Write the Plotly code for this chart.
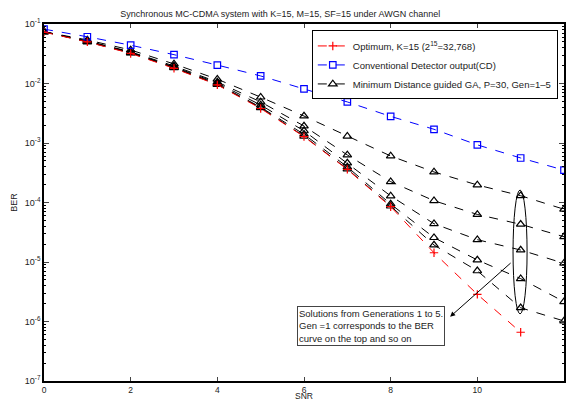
import plotly.graph_objects as go

snr = [0, 1, 2, 3, 4, 5, 6, 7, 8, 9, 10, 11, 12]
snr_opt = [0, 1, 2, 3, 4, 5, 6, 7, 8, 9, 10, 11]

ber_optimum = [0.073, 0.050, 0.032, 0.018, 0.0095, 0.0038, 0.00128, 0.00036, 0.000085,
               0.0000143, 0.00000286, 0.00000066]
ber_cd = [0.082, 0.061, 0.044, 0.0305, 0.0204, 0.0134, 0.0081, 0.0049, 0.0028, 0.0017,
          0.00093, 0.00056, 0.00035]
ber_gen1 = [0.074, 0.054, 0.0366, 0.0213, 0.0118, 0.0059, 0.00284, 0.0013, 0.000605,
            0.000326, 0.000197, 0.00013, 0.000077]
ber_gen2 = [0.074, 0.052, 0.034, 0.0197, 0.0106, 0.0049, 0.00193, 0.00063, 0.000224,
            0.000107, 0.000063, 0.000043, 0.0000266]
ber_gen3 = [0.074, 0.051, 0.0335, 0.019, 0.0102, 0.00435, 0.0016, 0.00046, 0.000129,
            0.000044, 0.0000237, 0.0000159, 0.0000095]
ber_gen4 = [0.074, 0.051, 0.033, 0.0186, 0.0098, 0.0040, 0.0014, 0.000396, 0.000094,
            0.0000257, 0.0000108, 0.00000525, 0.00000215]
ber_gen5 = [0.074, 0.050, 0.0325, 0.0183, 0.0096, 0.0039, 0.0013, 0.000366, 0.000087,
            0.0000193, 0.0000071, 0.0000017, 0.00000102]

y_tick_vals = [1e-7, 1e-6, 1e-5, 1e-4, 1e-3, 1e-2, 1e-1]
y_tick_text = ["10<sup>-7</sup>", "10<sup>-6</sup>", "10<sup>-5</sup>", "10<sup>-4</sup>",
               "10<sup>-3</sup>", "10<sup>-2</sup>", "10<sup>-1</sup>"]
x_tick_vals = [0, 2, 4, 6, 8, 10, 12]

title_text = "Synchronous MC-CDMA system with K=15, M=15, SF=15 under AWGN channel"
x_title = "SNR"
y_title = "BER"
note_text = ("Solutions from Generations 1 to 5.<br>Gen =1 corresponds to the BER<br>"
             "curve on the top and so on")

FONT = "Liberation Sans, Arial, sans-serif"

fig = go.Figure()

gens = [ber_gen1, ber_gen2, ber_gen3, ber_gen4, ber_gen5]
for i, g in enumerate(gens):
    fig.add_trace(go.Scatter(
        x=snr, y=g, mode="lines+markers",
        name="Minimum Distance guided GA, P=30, Gen=1\u20135",
        showlegend=(i == 0), legendrank=3,
        line=dict(color="#000000", width=1, dash="dash"),
        marker=dict(symbol="triangle-up-open", size=7.5, color="#000000", line=dict(width=1.2)),
    ))
fig.add_trace(go.Scatter(
    x=snr, y=ber_cd, mode="lines+markers",
    name="Conventional Detector output(CD)", legendrank=2,
    line=dict(color="#0000ff", width=1, dash="dash"),
    marker=dict(symbol="square-open", size=6.5, color="#0000ff", line=dict(width=1.2)),
))
fig.add_trace(go.Scatter(
    x=snr_opt, y=ber_optimum, mode="lines+markers",
    name="Optimum, K=15 (2<sup>15</sup>=32,768)", legendrank=1,
    line=dict(color="#ff0000", width=1, dash="dash"),
    marker=dict(symbol="cross-thin", size=6, line=dict(color="#ff0000", width=1.2)),
))

fig.update_layout(
    width=566, height=402,
    margin=dict(l=44, r=2, t=24, b=21),
    paper_bgcolor="white", plot_bgcolor="white",
    font=dict(family=FONT, size=9, color="#222222"),
    title=dict(text=title_text, xref="container", x=0.495, xanchor="center",
               yref="container", y=0.965, yanchor="middle",
               font=dict(size=9, color="#222222")),
    showlegend=True,
    legend=dict(
        x=0.515, y=0.982, xanchor="left", yanchor="top",
        bordercolor="#000000", borderwidth=1, bgcolor="white",
        font=dict(size=9.5, color="#222222"),
        itemwidth=30, tracegroupgap=0,
    ),
)

fig.update_xaxes(
    range=[0, 12], tickvals=x_tick_vals, ticks="inside", ticklen=4,
    showline=True, linecolor="#000000", linewidth=1.5, mirror="allticks",
    showgrid=False, zeroline=False, automargin=False,
    tickfont=dict(size=8.5),
)
fig.update_yaxes(
    type="log", range=[-7, -1], tickvals=y_tick_vals, ticktext=y_tick_text,
    ticks="inside", ticklen=5,
    minor=dict(ticks="inside", ticklen=2.5, dtick="D1", tickcolor="#000000", showgrid=False),
    showline=True, linecolor="#000000", linewidth=1.5, mirror="allticks",
    showgrid=False, zeroline=False, automargin=False,
    title=dict(text=y_title, standoff=6, font=dict(size=9)),
    tickfont=dict(size=9),
)

# x-axis title as annotation to keep it just under tick labels
fig.add_annotation(
    xref="paper", yref="paper", x=0.5, y=-0.0588, xanchor="center", yanchor="bottom",
    text=x_title, showarrow=False, font=dict(size=8.5, color="#222222"), borderpad=0,
)
# Text box annotation
fig.add_annotation(
    xref="paper", yref="paper", x=0.629, y=0.154, xanchor="center", yanchor="middle",
    text=note_text, showarrow=False, align="left",
    font=dict(size=9.5, color="#222222"),
    bordercolor="#444444", borderwidth=1, borderpad=1, bgcolor="white",
)
# Arrow from ellipse to text box
fig.add_annotation(
    xref="paper", yref="paper", x=0.781, y=0.180, text="",
    showarrow=True, arrowhead=2, arrowsize=1, arrowwidth=1, arrowcolor="#000000",
    ax=62, ay=-55,
)
# Ellipse around generation markers
fig.add_shape(
    type="circle", xref="paper", yref="paper",
    x0=0.902, x1=0.929, y0=0.188, y1=0.535,
    line=dict(color="#000000", width=1),
)

fig.write_html(
    "out.html",
    config={"displayModeBar": False},
    post_script="document.body.style.margin='0';document.body.style.overflow='hidden';",
)
